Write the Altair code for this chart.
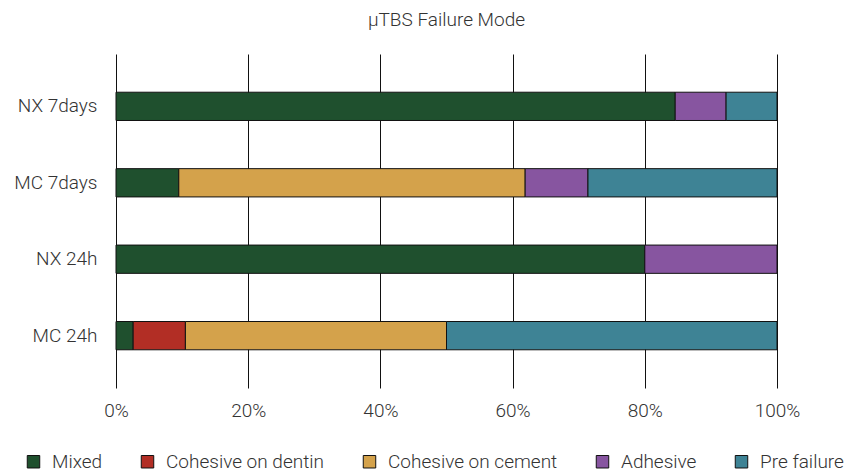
import altair as alt
import pandas as pd

groups = ["NX 7days", "MC 7days", "NX 24h", "MC 24h"]
modes = ["Mixed", "Cohesive on dentin", "Cohesive on cement", "Adhesive", "Pre failure"]
colors = ["#1F502E", "#B22E25", "#D4A24B", "#8755A0", "#3E8395"]

# percentage of specimens per failure mode, in the order of `modes`
nx_7days = [84.6, 0.0, 0.0, 7.7, 7.7]
mc_7days = [9.5, 0.0, 52.4, 9.5, 28.6]
nx_24h = [80.0, 0.0, 0.0, 20.0, 0.0]
mc_24h = [2.6, 7.9, 39.5, 0.0, 50.0]

x_ticks = [0, 0.2, 0.4, 0.6, 0.8, 1.0]

rows = []
for g, vals in zip(groups, [nx_7days, mc_7days, nx_24h, mc_24h]):
    for i, (m, v) in enumerate(zip(modes, vals)):
        if v > 0:
            rows.append({"group": g, "mode": m, "order": i, "value": v / 100.0})
df = pd.DataFrame(rows)

FONT = "Roboto"
FS = 19
FW = 300

chart = alt.Chart(df).mark_bar(stroke="#111111", strokeWidth=1).encode(
    y=alt.Y("group:N", sort=groups, title=None,
            scale=alt.Scale(paddingInner=0.63, paddingOuter=0.5),
            axis=alt.Axis(domain=False, ticks=False, labelFontSize=FS, labelColor="#333333",
                          labelFont=FONT, labelFontWeight=FW, labelPadding=19, grid=False)),
    x=alt.X("value:Q", stack="zero", title=None,
            scale=alt.Scale(domain=[0, 1], nice=False),
            axis=alt.Axis(values=x_ticks, format=".0%", domain=False, ticks=False,
                          grid=True, gridColor="#111111", gridOpacity=1, gridWidth=1,
                          labelFontSize=FS, labelColor="#333333", labelFont=FONT,
                          labelFontWeight=FW, labelFlush=False, labelPadding=13)),
    color=alt.Color("mode:N", sort=modes,
                    scale=alt.Scale(domain=modes, range=colors),
                    legend=alt.Legend(title=None, orient="none", direction="horizontal",
                                      legendX=-92, legendY=398,
                                      symbolType="square", symbolSize=156,
                                      symbolStrokeColor="#111111", symbolStrokeWidth=1,
                                      symbolOpacity=1,
                                      labelFontSize=FS, labelColor="#333333", labelFont=FONT,
                                      labelFontWeight=FW, labelLimit=300,
                                      labelOffset=9, columnPadding=35)),
    order=alt.Order("order:Q", sort="ascending"),
).properties(
    width=661, height=334,
    autosize="none",
    padding={"left": 108, "top": 46, "right": 75, "bottom": 90},
    title=alt.TitleParams("μTBS Failure Mode", font=FONT, fontSize=FS, fontWeight=FW,
                          color="#333333", offset=24, anchor="middle"),
).configure_view(stroke=None)

chart.save("out.html", embed_options={"renderer": "svg", "actions": False})
